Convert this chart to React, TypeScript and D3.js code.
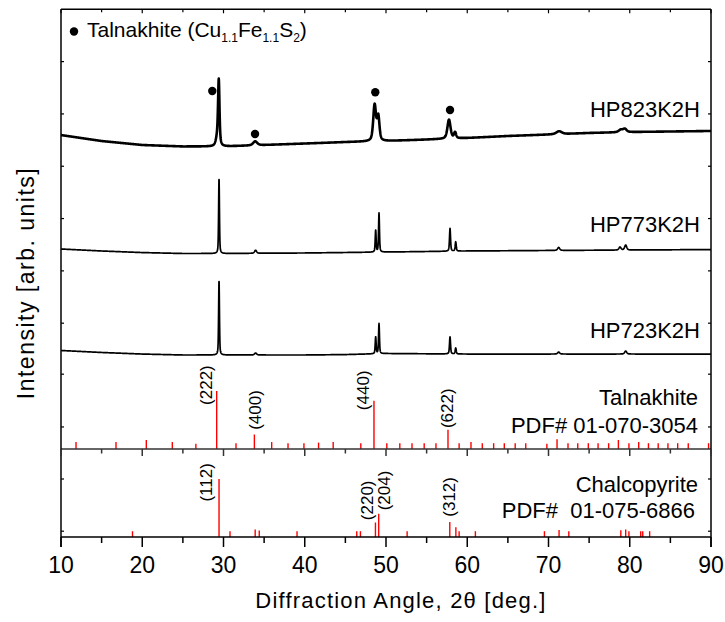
import React from "react";
import * as d3 from "d3";

// ---------- axes ----------
const X_DOMAIN: [number, number] = [10, 90];
const X_MAJOR = [10, 20, 30, 40, 50, 60, 70, 80, 90];
const X_MINOR = [15, 25, 35, 45, 55, 65, 75, 85];
const XRD_Y_TICKS = [500, 1000, 1500, 2000, 2500, 3000];
const TAL_Y_TICKS = [38, 129];
const CHAL_Y_TICKS = [10, 100];

// ---------- XRD patterns (arb. units) ----------
const SAMPLE_NAMES = ["HP823K2H", "HP773K2H", "HP723K2H"];

// background [2theta, intensity]
const BG_823 = [[10, 2298], [15, 2241], [20, 2203], [25, 2189], [30, 2189], [35, 2203], [40, 2217], [45, 2231], [50, 2241], [55, 2255], [60, 2270], [65, 2289], [70, 2303], [75, 2318], [80, 2327], [85, 2332], [90, 2337]];
const BG_773 = [[10, 1209], [15, 1190], [20, 1175], [25, 1166], [30, 1166], [40, 1171], [50, 1180], [60, 1190], [70, 1195], [80, 1199], [90, 1204]];
const BG_723 = [[10, 239], [15, 220], [20, 205], [25, 196], [30, 196], [40, 196], [45, 200], [50, 210], [60, 205], [70, 205], [80, 205], [90, 205]];

// peaks [2theta, height, fwhm]
const PEAKS_823 = [[29.42, 560, 0.2], [29.3, 110, 0.45], [33.9, 38, 0.6], [48.6, 344, 0.4], [49.05, 229, 0.35], [57.75, 182, 0.45], [58.5, 57, 0.3], [71.3, 28, 0.8], [78.9, 24, 0.6], [79.4, 30, 0.5]];
const PEAKS_773 = [[29.45, 722, 0.12], [33.95, 29, 0.3], [48.73, 210, 0.13], [49.14, 373, 0.13], [57.88, 217, 0.15], [58.58, 89, 0.15], [71.25, 29, 0.3], [78.8, 29, 0.3], [79.5, 48, 0.3]];
const PEAKS_723 = [[29.45, 717, 0.12], [33.95, 19, 0.3], [48.73, 162, 0.13], [49.14, 287, 0.13], [57.88, 162, 0.15], [58.58, 57, 0.15], [71.25, 19, 0.3], [79.5, 29, 0.3]];

// talnakhite markers on HP823K2H [2theta, intensity]
const MARKERS = [[28.62, 2719], [33.88, 2308], [48.68, 2707], [57.88, 2537]];

// ---------- reference patterns (relative intensity) ----------
const TAL_STICKS = [[11.85, 12], [16.77, 12], [20.5, 15.5], [23.7, 12], [26.6, 9], [29.16, 100], [31.54, 10], [33.8, 25], [35.93, 12], [37.94, 10], [39.9, 10], [41.7, 11], [43.5, 12], [46.9, 10], [48.52, 83], [50.1, 10], [51.7, 10], [53.2, 10], [54.7, 10], [56.15, 10], [57.63, 33], [59.0, 10], [60.46, 12], [61.85, 10], [63.25, 10], [64.56, 10], [65.9, 10], [67.2, 10], [69.8, 9], [71.05, 17], [72.4, 10], [73.6, 10], [74.9, 10], [76.1, 10], [77.4, 10], [78.6, 15.5], [79.9, 10], [81.1, 12], [82.3, 10], [83.5, 10], [84.7, 10], [85.9, 10], [87.2, 10], [89.7, 10]];
const CHAL_STICKS = [[18.8, 10], [29.45, 100], [30.8, 10], [33.9, 13], [34.4, 11], [39.05, 10], [46.4, 10], [46.85, 10], [48.7, 25], [49.1, 40], [52.6, 10], [57.85, 26], [58.6, 17], [59.0, 10], [61.0, 10], [69.5, 10], [71.3, 12], [72.5, 10], [78.9, 11.5], [79.5, 13], [79.9, 10], [81.35, 10], [81.6, 10], [82.45, 10]];

// hkl labels [text, 2theta, intensity at label start]
const TAL_HKL: [string, number, number][] = [["(222)", 28.03, 76], ["(400)", 34.07, 33], ["(440)", 47.29, 67], ["(622)", 57.69, 36]];
const CHAL_HKL: [string, number, number][] = [["(112)", 28.03, 61], ["(220)", 47.8, 29], ["(204)", 49.94, 46], ["(312)", 57.98, 35]];

// ---------- layout ----------
const W = 725, H = 622;
const L = 61, R = 711, T = 9.3, B = 537, DIV = 449, TAL_TOP = 362, CHAL_TOP = 450;
const FONT = "'Liberation Sans', Arial, Helvetica, sans-serif";

const xs = d3.scaleLinear().domain(X_DOMAIN).range([L, R]);
const yXRD = d3.scaleLinear().domain([0, 3500]).range([375.5, T]);
const yTal = d3.scaleLinear().domain([0, 150]).range([DIV, TAL_TOP]);
const yChal = d3.scaleLinear().domain([0, 150]).range([B, CHAL_TOP]);

function pv(x: number, c: number, w: number) {
  const u = (x - c) / w;
  const lor = 1 / (1 + 4 * u * u);
  const gau = Math.exp(-4 * Math.LN2 * u * u);
  return 0.5 * lor + 0.5 * gau;
}

function buildPattern(bg: number[][], peaks: number[][]) {
  const bgScale = d3.scaleLinear().domain(bg.map(d => d[0])).range(bg.map(d => d[1]));
  const pts: [number, number][] = [];
  for (let i = 0; i <= 4000; i++) {
    const x = X_DOMAIN[0] + i * 0.02;
    let y = bgScale(x);
    for (const p of peaks) y += p[1] * pv(x, p[0], p[2]);
    pts.push([x, y]);
  }
  return pts;
}

const PATTERNS = [
  { name: SAMPLE_NAMES[0], data: buildPattern(BG_823, PEAKS_823), sw: 2.6, labelY: 116.7 },
  { name: SAMPLE_NAMES[1], data: buildPattern(BG_773, PEAKS_773), sw: 1.7, labelY: 232 },
  { name: SAMPLE_NAMES[2], data: buildPattern(BG_723, PEAKS_723), sw: 1.7, labelY: 337.7 },
];

const line = d3.line<[number, number]>().x(d => xs(d[0])).y(d => yXRD(d[1]));

export default function App() {
  const axisColor = "#000";
  return (
    <svg width={W} height={H} style={{ position: "absolute", left: 0, top: 0, background: "#fff" }} fontFamily={FONT}>
      <rect x={0} y={0} width={W} height={H} fill="#fff" />
      {/* patterns */}
      {PATTERNS.map(p => (
        <path key={p.name} d={line(p.data) || ""} fill="none" stroke="#000" strokeWidth={p.sw} strokeLinejoin="round" />
      ))}
      {PATTERNS.map(p => (
        <text key={p.name + "l"} x={700} y={p.labelY} fontSize={22} textAnchor="end">{p.name}</text>
      ))}
      {MARKERS.map((m, i) => (
        <circle key={"m" + i} cx={xs(m[0])} cy={yXRD(m[1])} r={4.2} fill="#000" />
      ))}

      {/* legend */}
      <circle cx={74} cy={31.5} r={4.2} fill="#000" />
      <text x={87} y={36.7} fontSize={21}>
        Talnakhite (Cu<tspan fontSize={12} dy={5}>1.1</tspan><tspan dy={-5}>Fe</tspan><tspan fontSize={12} dy={5}>1.1</tspan><tspan dy={-5}>S</tspan><tspan fontSize={12} dy={5}>2</tspan><tspan dy={-5}>)</tspan>
      </text>

      {/* sticks */}
      {TAL_STICKS.map((s, i) => (
        <line key={"t" + i} x1={xs(s[0])} x2={xs(s[0])} y1={yTal(0)} y2={yTal(s[1])} stroke="#ff0000" strokeWidth={1.4} />
      ))}
      {CHAL_STICKS.map((s, i) => (
        <line key={"c" + i} x1={xs(s[0])} x2={xs(s[0])} y1={yChal(0)} y2={yChal(s[1])} stroke="#ff0000" strokeWidth={1.4} />
      ))}
      {TAL_HKL.map(h => (
        <text key={h[0]} transform={`translate(${xs(h[1]) + 4.6},${yTal(h[2])}) rotate(-90)`} fontSize={17}>{h[0]}</text>
      ))}
      {CHAL_HKL.map(h => (
        <text key={h[0]} transform={`translate(${xs(h[1]) + 4.6},${yChal(h[2])}) rotate(-90)`} fontSize={17}>{h[0]}</text>
      ))}
      <text x={698} y={405} fontSize={22} textAnchor="end">Talnakhite</text>
      <text x={698} y={433.3} fontSize={22} textAnchor="end">PDF# 01-070-3054</text>
      <text x={698} y={491.7} fontSize={22} textAnchor="end">Chalcopyrite</text>
      <text x={695} y={518.3} fontSize={22} textAnchor="end" style={{ whiteSpace: "pre" }}>{"PDF#  01-075-6866"}</text>

      {/* frame */}
      <line x1={L} x2={R} y1={T} y2={T} stroke={axisColor} strokeWidth={1.5} />
      <line x1={L} x2={R} y1={B} y2={B} stroke={axisColor} strokeWidth={1.6} />
      <line x1={L} x2={R} y1={DIV} y2={DIV} stroke="#333" strokeWidth={1.6} />
      <line x1={L} x2={L} y1={T} y2={B + 10} stroke={axisColor} strokeWidth={1.5} />
      <line x1={R} x2={R} y1={T} y2={B + 10} stroke={axisColor} strokeWidth={1.5} />

      {/* x ticks */}
      {X_MAJOR.map(v => (
        <g key={"xm" + v}>
          <line x1={xs(v)} x2={xs(v)} y1={B} y2={B + 10} stroke={axisColor} strokeWidth={1.5} />
          <line x1={xs(v)} x2={xs(v)} y1={DIV} y2={DIV + 7} stroke="#333" strokeWidth={1.5} />
          <line x1={xs(v)} x2={xs(v)} y1={T} y2={T + 4} stroke={axisColor} strokeWidth={1.2} />
          <text x={xs(v)} y={573.3} fontSize={23} textAnchor="middle">{v}</text>
        </g>
      ))}
      {X_MINOR.map(v => (
        <g key={"xn" + v}>
          <line x1={xs(v)} x2={xs(v)} y1={B} y2={B + 6} stroke={axisColor} strokeWidth={1.5} />
          <line x1={xs(v)} x2={xs(v)} y1={DIV} y2={DIV + 4.5} stroke="#333" strokeWidth={1.5} />
          <line x1={xs(v)} x2={xs(v)} y1={T} y2={T + 3} stroke={axisColor} strokeWidth={1.2} />
        </g>
      ))}

      {/* y ticks (inward, both sides) */}
      {[...XRD_Y_TICKS.map(v => yXRD(v)), ...TAL_Y_TICKS.map(v => yTal(v)), ...CHAL_Y_TICKS.map(v => yChal(v))].map((y, i) => (
        <g key={"yt" + i}>
          <line x1={L} x2={L + 3} y1={y} y2={y} stroke={axisColor} strokeWidth={1.2} />
          <line x1={R - 3} x2={R} y1={y} y2={y} stroke={axisColor} strokeWidth={1.2} />
        </g>
      ))}

      {/* axis titles */}
      <text x={401} y={607.7} fontSize={22} textAnchor="middle" letterSpacing={1.2}>Diffraction Angle, 2θ [deg.]</text>
      <text transform="translate(34,283) rotate(-90)" fontSize={23} textAnchor="middle" letterSpacing={1.5}>Intensity [arb. units]</text>
    </svg>
  );
}
